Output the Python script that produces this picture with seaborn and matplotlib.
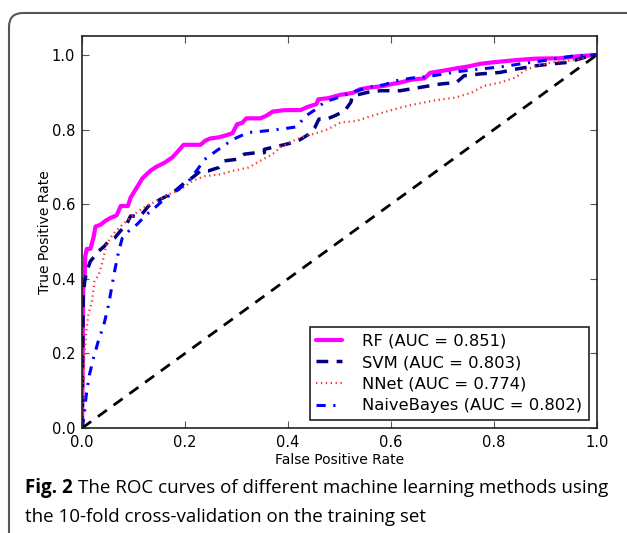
import matplotlib
matplotlib.use('Agg')
import matplotlib.pyplot as plt
import matplotlib.transforms as mtransforms
import pandas as pd
import seaborn as sns
from matplotlib.patches import FancyBboxPatch

# Pontos das curvas ROC
rf_fpr = [0, 0.002, 0.005, 0.006, 0.009, 0.016, 0.022, 0.026, 0.036, 0.045, 0.055, 0.067, 0.075,
          0.089, 0.094, 0.106, 0.117, 0.133, 0.144, 0.16, 0.175, 0.187, 0.197, 0.23, 0.239, 0.249,
          0.265, 0.276, 0.292, 0.301, 0.311, 0.319, 0.346, 0.358, 0.37, 0.393, 0.424, 0.439, 0.455,
          0.459, 0.478, 0.502, 0.525, 0.54, 0.556, 0.587, 0.602, 0.618, 0.641, 0.665, 0.676, 0.703,
          0.727, 0.75, 0.773, 0.797, 0.82, 0.851, 0.882, 0.929, 0.96, 1.0]
rf_tpr = [0, 0.375, 0.41, 0.46, 0.48, 0.48, 0.51, 0.54, 0.545, 0.555, 0.563, 0.57, 0.595,
          0.595, 0.617, 0.644, 0.669, 0.69, 0.70, 0.711, 0.725, 0.743, 0.759, 0.759, 0.77, 0.776,
          0.779, 0.783, 0.79, 0.814, 0.818, 0.83, 0.83, 0.837, 0.848, 0.852, 0.852, 0.861, 0.868,
          0.881, 0.884, 0.893, 0.898, 0.908, 0.912, 0.917, 0.922, 0.926, 0.934, 0.937, 0.952, 0.958,
          0.964, 0.969, 0.976, 0.98, 0.983, 0.987, 0.99, 0.991, 0.996, 1.0]

svm_fpr = [0, 0.002, 0.005, 0.009, 0.016, 0.024, 0.032, 0.043, 0.051, 0.063, 0.075, 0.086, 0.094,
           0.113, 0.129, 0.152, 0.176, 0.199, 0.214, 0.23, 0.245, 0.265, 0.276, 0.3, 0.315, 0.339,
           0.354, 0.354, 0.398, 0.42, 0.44, 0.452, 0.46, 0.475, 0.491, 0.51, 0.522, 0.525, 0.556,
           0.579, 0.618, 0.657, 0.696, 0.727, 0.742, 0.773, 0.812, 0.843, 0.882, 0.913, 0.944, 0.975, 1.0]
svm_tpr = [0, 0.348, 0.393, 0.42, 0.447, 0.46, 0.474, 0.487, 0.5, 0.509, 0.529, 0.545, 0.568,
           0.568, 0.595, 0.613, 0.63, 0.657, 0.671, 0.689, 0.689, 0.698, 0.716, 0.72, 0.734, 0.738,
           0.738, 0.747, 0.761, 0.77, 0.787, 0.805, 0.828, 0.828, 0.837, 0.85, 0.873, 0.89, 0.9,
           0.904, 0.904, 0.913, 0.922, 0.926, 0.944, 0.949, 0.953, 0.962, 0.971, 0.976, 0.98, 0.993, 1.0]

nnet_fpr = [0, 0.002, 0.003, 0.005, 0.008, 0.012, 0.019, 0.024, 0.032, 0.04, 0.047, 0.059, 0.075,
            0.09, 0.109, 0.125, 0.144, 0.168, 0.191, 0.214, 0.238, 0.269, 0.292, 0.323, 0.346, 0.37,
            0.385, 0.416, 0.447, 0.478, 0.502, 0.533, 0.564, 0.595, 0.634, 0.68, 0.727, 0.758, 0.781,
            0.812, 0.843, 0.859, 0.882, 0.913, 0.96, 1.0]
nnet_tpr = [0, 0.079, 0.142, 0.204, 0.258, 0.303, 0.339, 0.393, 0.41, 0.447, 0.491, 0.518, 0.541,
            0.559, 0.581, 0.595, 0.608, 0.626, 0.639, 0.662, 0.675, 0.68, 0.689, 0.698, 0.716, 0.734,
            0.752, 0.774, 0.787, 0.801, 0.819, 0.823, 0.837, 0.85, 0.864, 0.877, 0.886, 0.9, 0.917,
            0.926, 0.94, 0.958, 0.971, 0.98, 0.987, 1.0]

nb_fpr = [0, 0.003, 0.008, 0.014, 0.022, 0.031, 0.042, 0.05, 0.056, 0.063, 0.071, 0.078, 0.09,
          0.106, 0.125, 0.141, 0.152, 0.168, 0.187, 0.207, 0.222, 0.238, 0.261, 0.284, 0.3, 0.323,
          0.354, 0.385, 0.416, 0.435, 0.455, 0.47, 0.502, 0.525, 0.556, 0.587, 0.61, 0.641, 0.672,
          0.703, 0.734, 0.773, 0.82, 0.851, 0.898, 0.929, 0.96, 1.0]
nb_tpr = [0, 0.025, 0.088, 0.142, 0.187, 0.231, 0.276, 0.321, 0.366, 0.42, 0.474, 0.509, 0.527,
          0.545, 0.572, 0.59, 0.604, 0.622, 0.639, 0.662, 0.689, 0.72, 0.743, 0.765, 0.778, 0.792,
          0.796, 0.801, 0.807, 0.837, 0.855, 0.873, 0.888, 0.9, 0.913, 0.92, 0.931, 0.938, 0.942,
          0.949, 0.956, 0.962, 0.969, 0.976, 0.985, 0.992, 0.998, 1.0]

modelos = ['RF', 'SVM', 'NNet', 'NaiveBayes']
auc = [0.851, 0.803, 0.774, 0.802]
cores = ['#ff00ff', '#000080', '#ff3030', '#0000ff']
larguras = [3, 2.5, 1.6, 2.2]
tracos = [(None, None), (3.4, 2.4), (0.6, 1.6), (3, 2.5, 0.7, 2.5)]

curvas = [(rf_fpr, rf_tpr), (svm_fpr, svm_tpr), (nnet_fpr, nnet_tpr), (nb_fpr, nb_tpr)]

sns.set_theme(style='white')
plt.rcParams['font.family'] = ['DejaVu Sans']
plt.rcParams['xtick.direction'] = 'in'
plt.rcParams['ytick.direction'] = 'in'
plt.rcParams['text.color'] = 'black'
plt.rcParams['axes.labelcolor'] = 'black'
plt.rcParams['xtick.color'] = 'black'
plt.rcParams['ytick.color'] = 'black'

fig = plt.figure(figsize=(6.27, 5.33), dpi=100)
ax = fig.add_axes([0.131, 0.197, 0.821, 0.735])

for nome, a, cor, lw, dash, (fx, ty) in zip(modelos, auc, cores, larguras, tracos, curvas):
    df = pd.DataFrame({'fpr': fx, 'tpr': ty})
    linha = sns.lineplot(data=df, x='fpr', y='tpr', ax=ax, color=cor, lw=lw, sort=False,
                         estimator=None, label=f'{nome} (AUC = {a:.3f})')
    if dash[0] is not None:
        linha.lines[-1].set_dashes(dash)

# Linha diagonal (classificador aleatório)
ax.plot([0, 1], [0, 1], color='black', lw=2, dashes=(4, 3))

ax.set_xlim(0, 1)
ax.set_ylim(0, 1.05)
ax.set_xticks([0, 0.2, 0.4, 0.6, 0.8, 1.0])
ax.set_yticks([0, 0.2, 0.4, 0.6, 0.8, 1.0])
ax.set_xticklabels(['0.0', '0.2', '0.4', '0.6', '0.8', '1.0'], fontsize=10.5)
ax.set_yticklabels(['0.0', '0.2', '0.4', '0.6', '0.8', '1.0'], fontsize=10.5)
ax.tick_params(bottom=True, left=True, top=True, right=True, length=5, width=0.8,
               color='#555555', pad=5)
ax.set_xlabel('False Positive Rate', fontsize=10, labelpad=2)
ax.set_ylabel('True Positive Rate', fontsize=10, labelpad=0)
for s in ax.spines.values():
    s.set_color('#222222')
    s.set_linewidth(1.2)

leg = ax.legend(loc='lower right', fontsize=11.8, fancybox=False, framealpha=1,
                edgecolor='#222222', handlelength=1.6, borderaxespad=0.5, labelspacing=0.4,
                handletextpad=1.2, borderpad=0.4)
leg.get_frame().set_linewidth(1.2)

# Moldura arredondada em volta da figura (em pixels)
moldura = FancyBboxPatch((9, -30), 700, 533 - 13 + 30,
                         boxstyle='round,pad=0,rounding_size=14',
                         transform=mtransforms.IdentityTransform(),
                         fill=False, edgecolor='#555555', lw=1.5, clip_on=False)
fig.patches.append(moldura)

# Legenda da figura
fam = ['Open Sans', 'DejaVu Sans']
t1 = fig.text(25 / 627, 1 - 488 / 533, 'Fig. 2', fontsize=13.5, fontweight='bold', family=fam,
              va='center', ha='left')
fig.canvas.draw()
bb = t1.get_window_extent()
fig.text((bb.x1 + 5) / 627, 1 - 488 / 533,
         'The ROC curves of different machine learning methods using',
         fontsize=13.5, family=fam, va='center', ha='left')
fig.text(25 / 627, 1 - 517 / 533, 'the 10-fold cross-validation on the training set',
         fontsize=13.5, family=fam, va='center', ha='left')

fig.savefig('out.png', dpi=100)
